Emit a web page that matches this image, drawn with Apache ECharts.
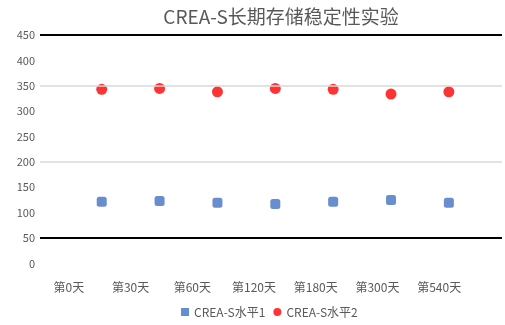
<!DOCTYPE html>
<html>
<head>
<meta charset="utf-8">
<script src="https://cdn.jsdelivr.net/npm/echarts@6/dist/echarts.min.js"></script>
<style>
  html, body { margin: 0; padding: 0; background: #fff; }
  #chart { width: 505px; height: 325px; }
</style>
</head>
<body>
<div id="chart"></div>
<script>
// Storage days
const categories = ['第0天', '第30天', '第60天', '第120天', '第180天', '第300天', '第540天'];
// Measured results per level
const level1 = [121.5, 122.9, 119.5, 117.0, 121.5, 124.9, 119.5];
const level2 = [342.9, 344.8, 338.1, 344.8, 342.9, 333.6, 338.1];
// Reference lines: control limits and targets
const limitLines = [450, 50];
const targetLines = [350, 200];
const yTicks = { min: 0, max: 450, interval: 50 };

const font = 'Noto Sans CJK SC, Noto Sans, sans-serif';
const chart = echarts.init(document.getElementById('chart'));

const gridTop = 35, gridBottom = 61.6;

chart.setOption({
  animation: false,
  backgroundColor: '#ffffff',
  title: {
    text: 'CREA-S长期存储稳定性实验',
    left: 276,
    textAlign: 'center',
    top: 2,
    textStyle: { fontFamily: font, fontSize: 19, fontWeight: 'normal', color: '#595959' }
  },
  legend: {
    bottom: 2,
    left: 176,
    itemGap: 8,
    itemWidth: 8,
    itemHeight: 8,
    textStyle: { fontFamily: font, fontSize: 12, color: '#595959' },
    data: [
      { name: 'CREA-S水平1', icon: 'rect' },
      { name: 'CREA-S水平2', icon: 'circle' }
    ]
  },
  grid: [
    { left: 40, right: 3, top: gridTop, bottom: gridBottom },
    { left: 72.8, width: 405, top: gridTop, bottom: gridBottom },
    { left: 38, width: 432, top: gridTop, bottom: gridBottom }
  ],
  xAxis: [
    { gridIndex: 0, type: 'category', data: categories, show: false },
    { gridIndex: 1, type: 'category', data: categories, show: false },
    {
      gridIndex: 2, type: 'category', data: categories,
      axisLine: { show: false }, axisTick: { show: false },
      axisLabel: { margin: 18, fontFamily: font, fontSize: 12, color: '#595959', interval: 0 }
    }
  ],
  yAxis: [
    {
      gridIndex: 0, type: 'value', min: yTicks.min, max: yTicks.max, interval: yTicks.interval,
      axisLine: { show: false }, axisTick: { show: false }, splitLine: { show: false },
      axisLabel: { margin: 5, fontFamily: font, fontSize: 11, color: '#595959' }
    },
    { gridIndex: 1, type: 'value', min: yTicks.min, max: yTicks.max, show: false, splitLine: { show: false } },
    { gridIndex: 2, type: 'value', min: yTicks.min, max: yTicks.max, show: false, splitLine: { show: false } }
  ],
  series: [
    {
      name: 'lines', type: 'line', xAxisIndex: 0, yAxisIndex: 0, data: [],
      silent: true,
      markLine: {
        symbol: 'none', silent: true, label: { show: false },
        data: [
          ...limitLines.map(v => ({ yAxis: v, lineStyle: { color: '#000000', width: 2, type: 'solid' } })),
          ...targetLines.map(v => ({ yAxis: v, lineStyle: { color: '#d9d9d9', width: 1.5, type: 'solid' } }))
        ]
      }
    },
    {
      name: 'CREA-S水平1', type: 'scatter', xAxisIndex: 1, yAxisIndex: 1,
      data: level1, symbol: 'roundRect', symbolSize: 10,
      itemStyle: { color: '#4472C4' }
    },
    {
      name: 'CREA-S水平2', type: 'scatter', xAxisIndex: 1, yAxisIndex: 1,
      data: level2, symbol: 'circle', symbolSize: 11,
      itemStyle: { color: '#FF0000' }
    }
  ]
});
</script>
</body>
</html>
